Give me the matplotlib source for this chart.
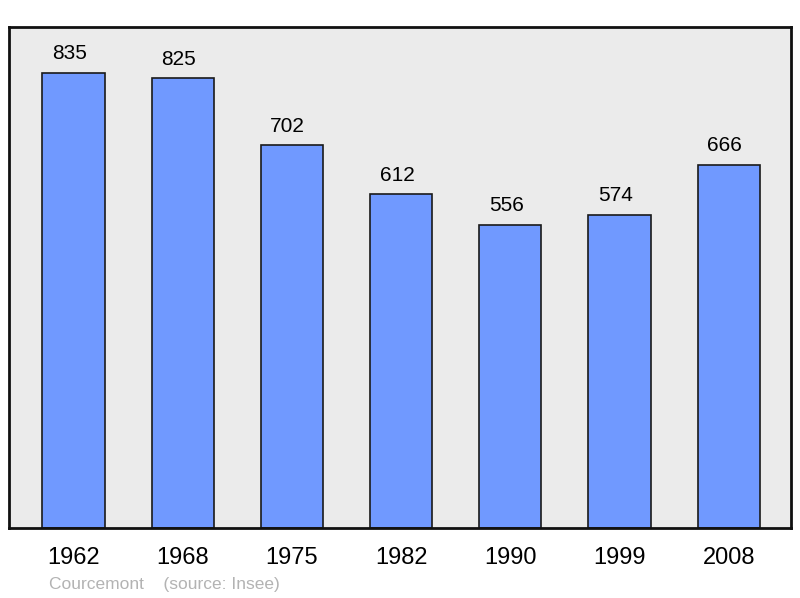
import matplotlib
matplotlib.use("Agg")
import matplotlib.pyplot as plt

years = ["1962", "1968", "1975", "1982", "1990", "1999", "2008"]
population = [835, 825, 702, 612, 556, 574, 666]
commune = "Courcemont"
source = "(source: Insee)"

plt.rcParams['font.family'] = ['Liberation Sans', 'DejaVu Sans']

fig = plt.figure(figsize=(8, 5.98), dpi=100)
W, H = 800, 598
left, right, top, bottom = 9, 791, 27, 528
ax = fig.add_axes([left / W, 1 - bottom / H, (right - left) / W, (bottom - top) / H])
ax.set_facecolor("#ebebeb")

x = list(range(len(years)))
ax.bar(x, population, width=0.57, color="#7099ff", edgecolor="#1a1a1a", linewidth=1.2, zorder=2)
for xi, v in zip(x, population):
    ax.annotate(str(v), (xi, v), xytext=(-3, 7), textcoords="offset points",
                ha="center", va="bottom", fontsize=15, color="#000000")

ax.set_xlim(-0.59, 6.57)
ax.set_ylim(0, 919)
ax.set_yticks([])
ax.set_xticks(x)
ax.set_xticklabels(years, fontsize=17)
ax.tick_params(axis="x", length=0, pad=14)
for s in ax.spines.values():
    s.set_linewidth(2)
    s.set_color("#111111")

fig.text(49 / W, 1 - 584 / H, commune + "    " + source, fontsize=12.5, color="#b3b3b3",
         ha="left", va="center")

fig.savefig("out.png", dpi=100)
